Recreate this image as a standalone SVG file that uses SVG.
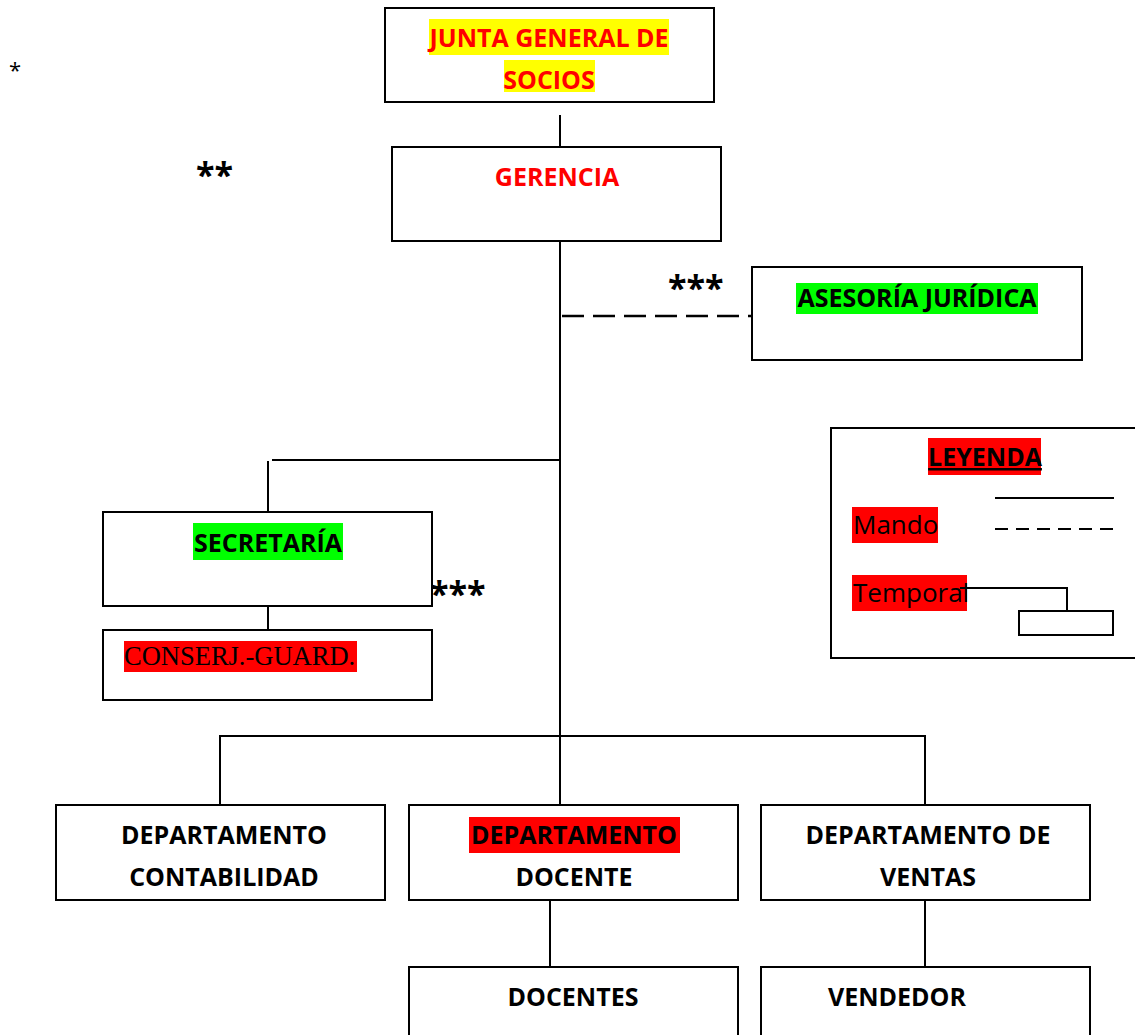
<svg xmlns="http://www.w3.org/2000/svg" width="1135" height="1035" viewBox="0 0 1135 1035">
  <style>
    .box { fill: #ffffff; stroke: #000000; stroke-width: 2; }
    .ln { fill: none; stroke: #000000; stroke-width: 2; }
    .dash { fill: none; stroke: #000000; stroke-width: 2.5; stroke-dasharray: 22 9; }
    .dash2 { fill: none; stroke: #000000; stroke-width: 2; stroke-dasharray: 13 8; }
    .lbl { font-family: "Open Sans", "Liberation Sans", sans-serif; font-weight: 700; font-size: 25px; text-anchor: middle; fill: #000000; }
    .red { fill: #ff0000; }
    .reg { font-family: "Open Sans", "Liberation Sans", sans-serif; font-size: 26px; fill: #000000; }
    .serif { font-family: "Liberation Serif", "Times New Roman", serif; font-size: 26.5px; fill: #000000; }
    .star { font-family: "Open Sans", "Liberation Sans", sans-serif; font-weight: 700; font-size: 34px; fill: #000000; }
    .hl-y { fill: #ffff00; }
    .hl-r { fill: #ff0000; }
    .hl-g { fill: #00ff00; }
  </style>

  <rect width="1135" height="1035" fill="#ffffff"/>

  <!-- connectors -->
  <g id="connectors">
    <line class="ln" x1="560" y1="115" x2="560" y2="147"/>
    <line class="ln" x1="560" y1="241" x2="560" y2="805"/>
    <line class="dash" x1="562" y1="316" x2="752" y2="316"/>
    <polyline class="ln" points="272,460 560,460"/>
    <line class="ln" x1="268" y1="461" x2="268" y2="512"/>
    <line class="ln" x1="268" y1="606" x2="268" y2="630"/>
    <polyline class="ln" points="220,805 220,736 925,736 925,805"/>
    <line class="ln" x1="550" y1="900" x2="550" y2="967"/>
    <line class="ln" x1="925" y1="900" x2="925" y2="967"/>
  </g>

  <!-- markers -->
  <g id="stars">
    <text x="9" y="78" class="reg" style="font-size:22px">*</text>
    <text x="196" y="187" class="star">**</text>
    <text x="668" y="300" class="star">***</text>
    <text x="430" y="606" class="star">***</text>
  </g>

  <g id="junta">
    <rect class="box" x="385" y="8" width="329" height="94"/>
    <rect class="hl-y" x="429" y="19" width="240" height="36"/>
    <rect class="hl-y" x="504" y="60" width="91" height="32"/>
    <text class="lbl red" x="549" y="47">JUNTA GENERAL DE</text>
    <text class="lbl red" x="549" y="89">SOCIOS</text>
  </g>

  <g id="gerencia">
    <rect class="box" x="392" y="147" width="329" height="94"/>
    <text class="lbl red" x="557" y="186">GERENCIA</text>
  </g>

  <g id="asesoria">
    <rect class="box" x="752" y="267" width="330" height="93"/>
    <rect class="hl-g" x="796" y="283" width="242" height="31"/>
    <text class="lbl" x="917" y="307">ASESORÍA JURÍDICA</text>
  </g>

  <g id="secretaria">
    <rect class="box" x="103" y="512" width="329" height="94"/>
    <rect class="hl-g" x="193" y="523" width="150" height="37"/>
    <text class="lbl" x="268" y="552">SECRETARÍA</text>
  </g>

  <g id="conserjeria">
    <rect class="box" x="103" y="630" width="329" height="70"/>
    <rect class="hl-r" x="124" y="641" width="233" height="31"/>
    <text class="serif" x="124" y="665">CONSERJ.-GUARD.</text>
  </g>

  <g id="leyenda">
    <rect class="box" x="831" y="428" width="310" height="230"/>
    <rect class="hl-r" x="928" y="438" width="113" height="37"/>
    <text class="lbl" x="985" y="466" text-decoration="underline">LEYENDA</text>
    <line class="ln" x1="995" y1="498" x2="1114" y2="498"/>
    <line class="dash2" x1="995" y1="529" x2="1114" y2="529"/>
    <rect class="hl-r" x="852" y="507" width="86" height="36"/>
    <text class="reg" x="853" y="534">Mando</text>
    <rect class="hl-r" x="852" y="575" width="115" height="36"/>
    <text class="reg" x="853" y="602">Temporal</text>
    <polyline class="ln" points="960,588 1067,588 1067,611"/>
    <rect class="box" x="1019" y="611" width="94" height="24"/>
  </g>

  <g id="dep-contabilidad">
    <rect class="box" x="56" y="805" width="329" height="95"/>
    <text class="lbl" x="224" y="844">DEPARTAMENTO</text>
    <text class="lbl" x="224" y="886">CONTABILIDAD</text>
  </g>

  <g id="dep-docente">
    <rect class="box" x="409" y="805" width="329" height="95"/>
    <rect class="hl-r" x="469" y="817" width="211" height="36"/>
    <text class="lbl" x="574" y="844">DEPARTAMENTO</text>
    <text class="lbl" x="574" y="886">DOCENTE</text>
  </g>

  <g id="dep-ventas">
    <rect class="box" x="761" y="805" width="329" height="95"/>
    <text class="lbl" x="928" y="844">DEPARTAMENTO DE</text>
    <text class="lbl" x="928" y="886">VENTAS</text>
  </g>

  <g id="docentes">
    <rect class="box" x="409" y="967" width="329" height="80"/>
    <text class="lbl" x="573" y="1006">DOCENTES</text>
  </g>

  <g id="vendedor">
    <rect class="box" x="761" y="967" width="329" height="80"/>
    <text class="lbl" x="897" y="1006">VENDEDOR</text>
  </g>
</svg>
